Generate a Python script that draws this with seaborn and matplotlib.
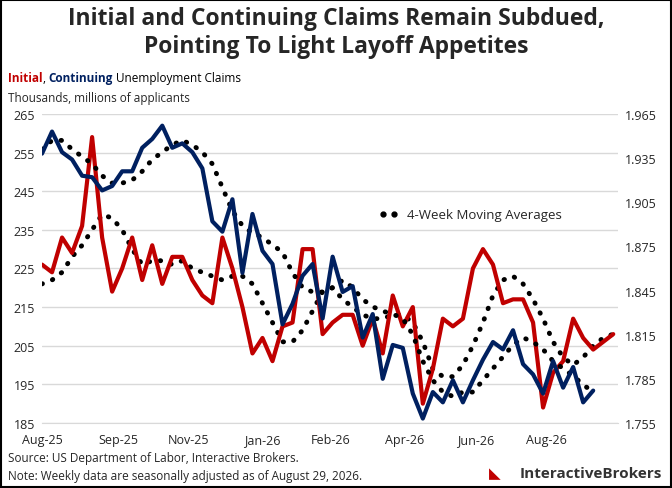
import numpy as np
import matplotlib.pyplot as plt
import seaborn as sns
from matplotlib.patches import Rectangle

# weekly values
initial = [226, 224, 233, 229, 236, 259, 233, 219, 225, 233, 222, 231, 221, 228, 228, 222, 218, 216, 233, 225,
           215, 203, 207, 201, 210, 211, 230, 230, 208, 211, 213, 213, 205, 212, 203, 218, 210, 215, 190, 199,
           212, 210, 212, 225, 230, 226, 216, 217, 217, 211, 189, 198, 201, 212, 207, 204, 206, 208]
initial_ma = [221, 222, 224, 228, 231, 235, 239, 238, 235, 230, 226, 227, 227, 226, 227, 225, 224, 223, 222, 223,
              223, 221, 216, 211, 206, 206, 209, 214, 219, 220, 217, 215, 213, 212, 212, 213, 213, 211, 206, 199,
              197, 197, 200, 205, 211, 218, 222, 223, 221, 217, 212, 206, 202, 200, 202, 205, 207, 208]
continuing = [1.938, 1.953, 1.939, 1.934, 1.923, 1.922, 1.913, 1.916, 1.926, 1.926, 1.942, 1.948, 1.957, 1.942,
              1.945, 1.939, 1.928, 1.892, 1.885, 1.907, 1.857, 1.897, 1.872, 1.863, 1.822, 1.836, 1.855, 1.863,
              1.826, 1.868, 1.844, 1.848, 1.813, 1.829, 1.785, 1.808, 1.806, 1.775, 1.758, 1.776, 1.769, 1.784,
              1.769, 1.784, 1.798, 1.810, 1.805, 1.818, 1.795, 1.788, 1.775, 1.797, 1.779, 1.793, 1.769, 1.777]
continuing_ma = [1.941, 1.947, 1.947, 1.941, 1.936, 1.931, 1.923, 1.918, 1.918, 1.920, 1.926, 1.934, 1.939, 1.944,
                 1.947, 1.944, 1.939, 1.931, 1.915, 1.899, 1.889, 1.884, 1.881, 1.876, 1.871, 1.857, 1.847, 1.844,
                 1.844, 1.847, 1.852, 1.847, 1.839, 1.834, 1.831, 1.829, 1.826, 1.815, 1.797, 1.784, 1.776, 1.773,
                 1.776, 1.776, 1.784, 1.792, 1.800, 1.808, 1.813, 1.810, 1.805, 1.797, 1.792, 1.787, 1.781, 1.776]
tick_pos = [0, 7.6, 14.6, 22, 28.8, 36.2, 43.3, 50.3]
tick_labels = ["Aug-25", "Sep-25", "Nov-25", "Jan-26", "Feb-26", "Apr-26", "Jun-26", "Aug-26"]
left_ticks = [185, 195, 205, 215, 225, 235, 245, 255, 265]
right_ticks = [1.755, 1.785, 1.815, 1.845, 1.875, 1.905, 1.935, 1.965]

RED = "#c00000"
BLUE = "#002060"

sns.set_style("white")
plt.rcParams["font.family"] = ["Open Sans", "DejaVu Sans"]

fig = plt.figure(figsize=(6.72, 4.89), dpi=100)
ax = fig.add_axes([0.0625, 0.133, 0.8575, 0.632])
ax2 = ax.twinx()

wk_i = np.arange(len(initial))
wk_c = np.arange(len(continuing))
dots = (0, (0.1, 2.2))
sns.lineplot(x=wk_i, y=initial_ma, ax=ax, color="black", lw=3.5, linestyle=dots, dash_capstyle="round")
sns.lineplot(x=wk_i, y=initial, ax=ax, color=RED, lw=3)
sns.lineplot(x=wk_c, y=continuing_ma, ax=ax2, color="black", lw=3.5, linestyle=dots, dash_capstyle="round")
sns.lineplot(x=wk_c, y=continuing, ax=ax2, color=BLUE, lw=3)

ax.set_ylim(185, 265)
ax2.set_ylim(1.755, 1.965)
ax.set_yticks(left_ticks)
ax2.set_yticks(right_ticks)
ax2.set_yticklabels([f"{v:.3f}" for v in right_ticks])
ax.set_xlim(0, 57.5)
ax.set_xticks(tick_pos)
ax.set_xticklabels(tick_labels)
for a in (ax, ax2):
    a.tick_params(labelsize=9, length=0, pad=5)
    for s in a.spines.values():
        s.set_visible(False)
    a.set_ylabel("")
ax.tick_params(axis="x", pad=7)
ax.grid(axis="y", color="#d9d9d9", lw=1)
ax.spines["bottom"].set_visible(True)
ax.spines["bottom"].set_color("#d9d9d9")

ax.plot([34, 35.1], [239, 239], ls="none", marker="o", ms=3.5, color="black")
ax.text(36.4, 239, "4-Week Moving Averages", fontsize=9.5, va="center", ha="left")

fig.text(0.5, 0.985, "Initial and Continuing Claims Remain Subdued,\nPointing To Light Layoff Appetites",
         ha="center", va="top", fontsize=16.5, fontweight="bold", linespacing=1.2)

# subtitle with coloured words, chained left to right
fig.canvas.draw()
r = fig.canvas.get_renderer()
x = 0.012
for s, c, w in [("Initial", RED, "bold"), (", ", "black", "normal"),
                ("Continuing", BLUE, "bold"), (" Unemployment Claims", "black", "normal")]:
    t = fig.text(x, 0.833, s, color=c, fontsize=8.5, fontweight=w)
    x += t.get_window_extent(r).width / fig.bbox.width
fig.text(0.012, 0.792, "Thousands, millions of applicants", fontsize=8.5)
fig.text(0.012, 0.056, "Source: US Department of Labor, Interactive Brokers.", fontsize=8.5)
fig.text(0.012, 0.018, "Note: Weekly data are seasonally adjusted as of August 29, 2026.", fontsize=8.5)
fig.text(0.985, 0.022, "InteractiveBrokers", ha="right", fontsize=11, fontweight="bold", color="#333333")
fig.text(0.745, 0.022, "\u25e3", ha="right", fontsize=11, color=RED)
fig.patches.append(Rectangle((0.002, 0.002), 0.996, 0.996, transform=fig.transFigure,
                             fill=False, edgecolor="black", lw=1.5))

fig.savefig("out.png", dpi=100)
